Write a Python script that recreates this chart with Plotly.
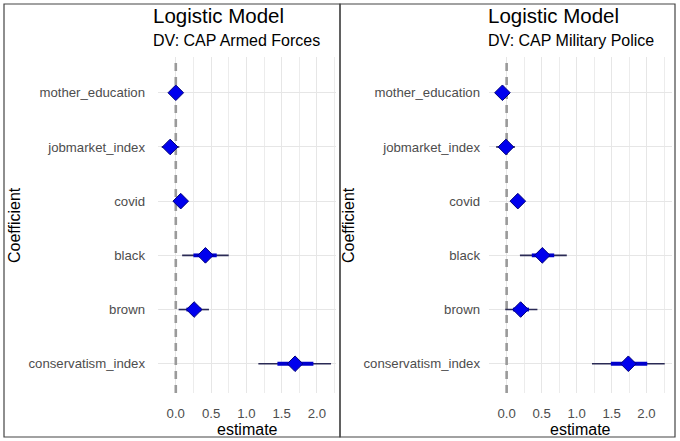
import plotly.graph_objects as go

coefs = ["mother_education", "jobmarket_index", "covid", "black", "brown", "conservatism_index"]
ypos = [6, 5, 4, 3, 2, 1]

# DV: CAP Armed Forces
af_est = [0.00, -0.08, 0.07, 0.42, 0.26, 1.69]
af_lo95 = [-0.03, -0.20, 0.00, 0.09, 0.04, 1.17]
af_hi95 = [0.03, 0.05, 0.15, 0.75, 0.47, 2.20]
af_lo50 = [-0.015, -0.13, 0.03, 0.25, 0.15, 1.44]
af_hi50 = [0.015, -0.03, 0.11, 0.58, 0.36, 1.95]

# DV: CAP Military Police
mp_est = [-0.06, -0.01, 0.16, 0.51, 0.20, 1.74]
mp_lo95 = [-0.09, -0.15, 0.09, 0.19, -0.02, 1.22]
mp_hi95 = [-0.03, 0.12, 0.23, 0.86, 0.44, 2.26]
mp_lo50 = [-0.075, -0.08, 0.12, 0.36, 0.09, 1.49]
mp_hi50 = [-0.045, 0.06, 0.20, 0.68, 0.32, 2.01]

xticks = [0.0, 0.5, 1.0, 1.5, 2.0]
ref_value = 0.0

FONT = "Liberation Sans, Arial, sans-serif"
W, H = 680, 441
YRANGE = [0.46, 6.66]

def seg(lo, hi, ys):
    xs, yy = [], []
    for a, b, y in zip(lo, hi, ys):
        xs += [a, b, None]
        yy += [y, y, None]
    return xs, yy

fig = go.Figure()

panels = [
    ("x", "y", af_est, af_lo95, af_hi95, af_lo50, af_hi50),
    ("x2", "y2", mp_est, mp_lo95, mp_hi95, mp_lo50, mp_hi50),
]
for xa, ya, est, lo95, hi95, lo50, hi50 in panels:
    # dashed reference line at zero (drawn under the estimates)
    fig.add_trace(go.Scatter(x=[ref_value, ref_value], y=YRANGE, mode="lines", xaxis=xa, yaxis=ya,
                             line=dict(color="#9a9a9a", width=2.6, dash="8px,6px"),
                             showlegend=False, hoverinfo="skip"))
    xs, yy = seg(lo95, hi95, ypos)
    fig.add_trace(go.Scatter(x=xs, y=yy, mode="lines", xaxis=xa, yaxis=ya,
                             line=dict(color="#2a2a55", width=1.6), showlegend=False, hoverinfo="skip"))
    xs, yy = seg(lo50, hi50, ypos)
    fig.add_trace(go.Scatter(x=xs, y=yy, mode="lines", xaxis=xa, yaxis=ya,
                             line=dict(color="#0000cc", width=3.8), showlegend=False, hoverinfo="skip"))
    fig.add_trace(go.Scatter(x=est, y=ypos, mode="markers", xaxis=xa, yaxis=ya,
                             marker=dict(symbol="diamond", size=12, color="#0000ee",
                                         line=dict(color="#00007a", width=1)),
                             showlegend=False))

def px_x(p):
    return p / W

def px_y(p):
    return 1 - p / H

axis_common = dict(
    showline=False, zeroline=False, ticks="",
    gridcolor="#e6e6e6", gridwidth=1,
    tickfont=dict(family=FONT, size=13.2, color="#4d4d4d"),
)

fig.update_layout(
    width=W, height=H, autosize=False,
    margin=dict(l=0, r=0, t=0, b=0),
    paper_bgcolor="white", plot_bgcolor="white",
    font=dict(family=FONT),
    xaxis=dict(domain=[px_x(158), px_x(336)], range=[-0.252, 2.27], anchor="y",
               tickvals=xticks, tickformat=".1f", ticklabelstandoff=11,
               minor=dict(dtick=0.25, tick0=0, showgrid=True, gridcolor="#ececec", gridwidth=0.6),
               **axis_common),
    yaxis=dict(domain=[px_y(393), px_y(57)], range=YRANGE, anchor="x",
               tickvals=ypos, ticktext=coefs, ticklabelstandoff=12, **axis_common),
    xaxis2=dict(domain=[px_x(489), px_x(672)], range=[-0.252, 2.364], anchor="y2",
                tickvals=xticks, tickformat=".1f", ticklabelstandoff=11,
                minor=dict(dtick=0.25, tick0=0, showgrid=True, gridcolor="#ececec", gridwidth=0.6),
                **axis_common),
    yaxis2=dict(domain=[px_y(393), px_y(57)], range=YRANGE, anchor="x2",
                tickvals=ypos, ticktext=coefs, ticklabelstandoff=8, **axis_common),
)

# panel borders
for x0, x1 in [(4, 340), (340, 675)]:
    fig.add_shape(type="rect", xref="paper", yref="paper",
                  x0=px_x(x0), x1=px_x(x1), y0=px_y(437), y1=px_y(4),
                  line=dict(color="#444444", width=1.2), fillcolor="rgba(0,0,0,0)")

titles = [(153, "DV: CAP Armed Forces", 247), (488, "DV: CAP Military Police", 580)]
for tx, sub, cx in titles:
    fig.add_annotation(text="Logistic Model", xref="paper", yref="paper",
                       x=px_x(tx - 2), y=px_y(15), xanchor="left", yanchor="middle",
                       showarrow=False, font=dict(family=FONT, size=20.5, color="black"))
    fig.add_annotation(text=sub, xref="paper", yref="paper",
                       x=px_x(tx - 2), y=px_y(41), xanchor="left", yanchor="middle",
                       showarrow=False, font=dict(family=FONT, size=16, color="black"))
    fig.add_annotation(text="estimate", xref="paper", yref="paper",
                       x=px_x(cx), y=px_y(429), xanchor="center", yanchor="middle",
                       showarrow=False, font=dict(family=FONT, size=16, color="black"))

for lx in [14, 348]:
    fig.add_annotation(text="Coefficient", xref="paper", yref="paper",
                       x=px_x(lx), y=px_y(225), xanchor="center", yanchor="middle",
                       textangle=-90, showarrow=False,
                       font=dict(family=FONT, size=16, color="black"))

fig.write_html("out.html", config={"displayModeBar": False},
               post_script="document.body.style.margin='0';document.body.style.overflow='hidden';")
